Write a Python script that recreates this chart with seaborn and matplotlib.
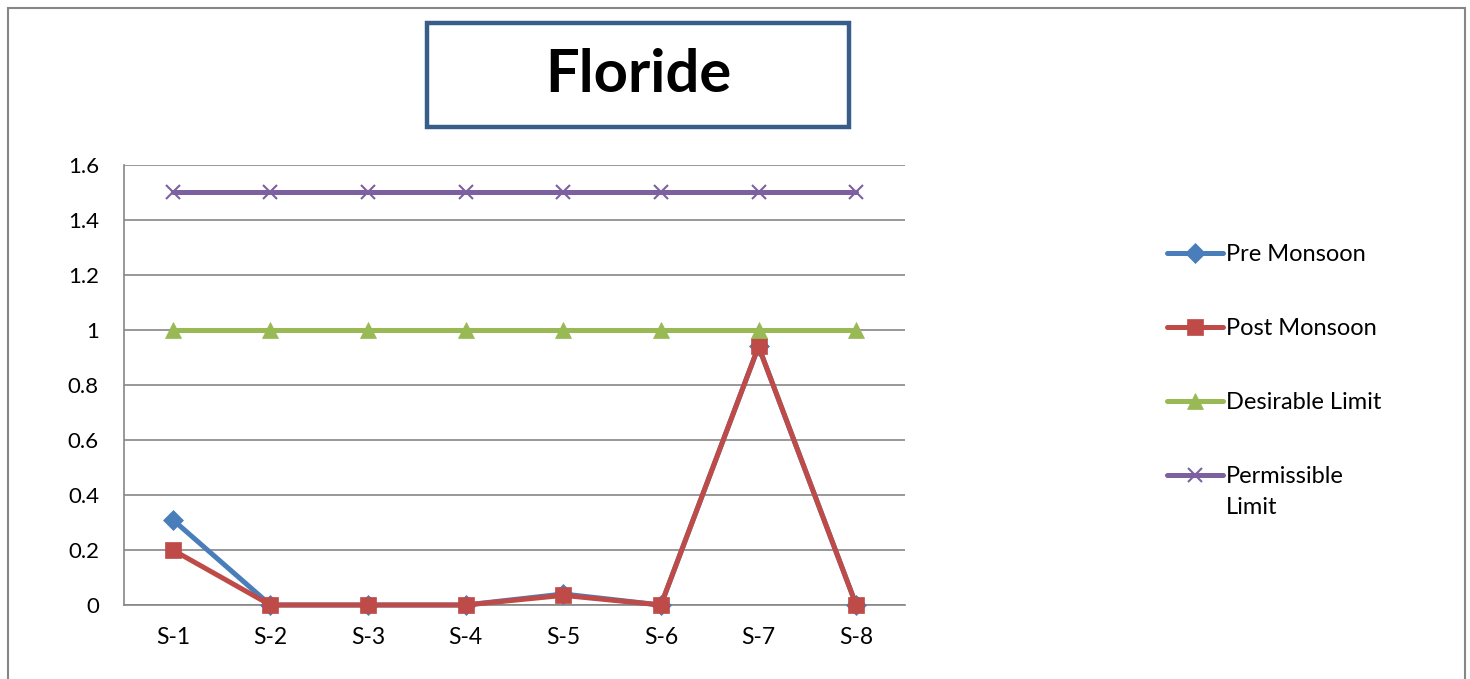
import numpy as np
import pandas as pd
import matplotlib
matplotlib.use("Agg")
import matplotlib.pyplot as plt
import matplotlib.patches as patches
from matplotlib.ticker import FixedLocator
import seaborn as sns

sns.set_style("white")
plt.rcParams['font.family'] = ['Lato', 'DejaVu Sans']
plt.rcParams['text.color'] = 'black'
plt.rcParams['xtick.color'] = 'black'
plt.rcParams['ytick.color'] = 'black'

# data
sites = ["S-1", "S-2", "S-3", "S-4", "S-5", "S-6", "S-7", "S-8"]
pre_monsoon = [0.31, 0.0, 0.0, 0.0, 0.04, 0.0, 0.94, 0.0]
post_monsoon = [0.20, 0.0, 0.0, 0.0, 0.035, 0.0, 0.94, 0.0]
desirable = [1, 1, 1, 1, 1, 1, 1, 1]
permissible = [1.5, 1.5, 1.5, 1.5, 1.5, 1.5, 1.5, 1.5]

series = [
    ("Pre Monsoon", pre_monsoon, "#4a7ebb", "D", 10),
    ("Post Monsoon", post_monsoon, "#be4b48", "s", 12),
    ("Desirable Limit", desirable, "#98b954", "^", 12),
    ("Permissible", permissible, "#7d60a0", "x", 10),
]

fig = plt.figure(figsize=(14.7, 6.79), dpi=100)
ax = fig.add_axes([124/1470, 1-605/679, (905-124)/1470, (605-165)/679])

for name, vals, col, mk, ms in series:
    df = pd.DataFrame({"site": sites, "val": vals})
    sns.lineplot(data=df, x="site", y="val", ax=ax, color=col, lw=3.6,
                 marker=mk, markersize=ms, markeredgecolor=col,
                 markeredgewidth=1.5 if mk == "x" else 0.5, label=name,
                 clip_on=False, zorder=3)

ax.set_xlim(-0.5, 7.5)
ax.set_ylim(0, 1.6)
ax.set_yticks(np.arange(0, 1.61, 0.2))
ax.set_yticklabels(["0", "0.2", "0.4", "0.6", "0.8", "1", "1.2", "1.4", "1.6"])
ax.xaxis.set_minor_locator(FixedLocator(np.arange(-0.5, 8, 1)))
ax.tick_params(axis="x", which="major", length=0, pad=16, labelsize=16.5)
ax.tick_params(axis="x", which="minor", length=6, width=1.2, color="#868686", direction="out")
ax.tick_params(axis="y", length=6, width=1.2, color="#868686", direction="out", pad=12, labelsize=16)
ax.set_xlabel("")
ax.set_ylabel("")
ax.grid(axis="y", color="#868686", lw=1.2)
ax.set_axisbelow(True)
for s in ["top", "right"]:
    ax.spines[s].set_visible(False)
for s in ["left", "bottom"]:
    ax.spines[s].set_color("#868686")
    ax.spines[s].set_linewidth(1.2)

handles, labels = ax.get_legend_handles_labels()
ax.get_legend().remove()
leg = fig.legend(handles, labels, loc="upper left", bbox_to_anchor=(1155/1470, 1-232/679),
                 frameon=False, fontsize=17, handlelength=2.4, handletextpad=0.1,
                 labelspacing=2.25, borderpad=0)

# second line of the last legend label, under "Permissible"
fig.canvas.draw()
last = leg.get_texts()[-1]
bb = last.get_window_extent()
fig.text(bb.x0 / 1470, (bb.y0 - 10) / 679, "Limit", ha="left", va="top", fontsize=17)

# outer chart border
fig.add_artist(patches.Rectangle((8/1470, -0.02), (1465-8)/1470, 1.02 - 8/679,
                                 transform=fig.transFigure, fill=False,
                                 edgecolor="#868686", lw=1.5))
# title box
fig.add_artist(patches.Rectangle((427/1470, 1-127/679), (849-427)/1470, (127-23)/679,
                                 transform=fig.transFigure, fill=False,
                                 edgecolor="#385d8a", lw=3.2))
fig.text(638/1470, 1-75/679, "Floride", ha="center", va="center",
         fontsize=43, fontweight="bold", color="black")

fig.savefig("out.png", dpi=100)
